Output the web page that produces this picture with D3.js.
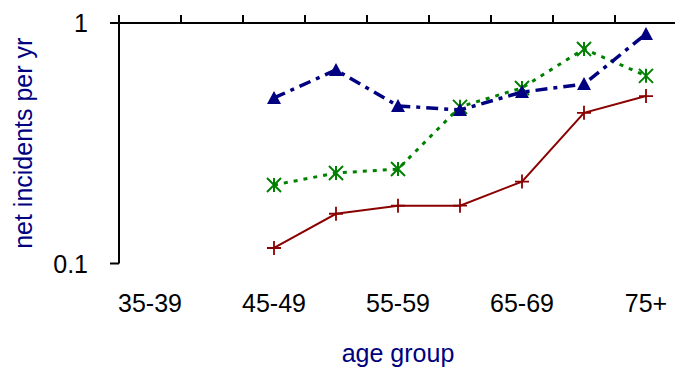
<!DOCTYPE html>
<html>
<head>
<meta charset="utf-8">
<script src="https://cdn.jsdelivr.net/npm/d3@7"></script>
<style>
  html, body { margin: 0; padding: 0; background: #fff; }
  svg { display: block; font-family: "Liberation Sans", Arial, sans-serif; }
</style>
</head>
<body>
<svg id="chart" width="675" height="370"></svg>
<script>
const categories = ["35-39", "40-44", "45-49", "50-54", "55-59", "60-64", "65-69", "70-74", "75+"];
const xTickLabels = ["35-39", "45-49", "55-59", "65-69", "75+"];
const yTickValues = [0.1, 1];
const yTickLabels = ["0.1", "1"];

// series values (null = no data)
const seriesTriangle = [null, null, 0.488, 0.638, 0.452, 0.435, 0.516, 0.557, 0.90];
const seriesStar     = [null, null, 0.212, 0.238, 0.247, 0.448, 0.537, 0.780, 0.603];
const seriesPlus     = [null, null, 0.116, 0.161, 0.174, 0.174, 0.219, 0.423, 0.497];

(function () {
const svg = d3.select("#chart");
const mLeft = 119, mRight = 677, mTop = 23, mBottom = 263.5;

const x = d3.scaleBand().domain(categories).range([mLeft, mRight]).padding(0);
const cx = c => x(c) + x.bandwidth() / 2;
const y = d3.scaleLog().domain([0.1, 1]).range([mBottom, mTop]);

// axes lines
svg.append("line").attr("x1", mLeft).attr("x2", mLeft).attr("y1", mTop).attr("y2", mBottom)
  .attr("stroke", "#000").attr("stroke-width", 2);
svg.append("line").attr("x1", mLeft - 9).attr("x2", 675).attr("y1", mTop).attr("y2", mTop)
  .attr("stroke", "#000").attr("stroke-width", 2);

// y ticks
yTickValues.forEach((v, i) => {
  svg.append("line").attr("x1", mLeft - 9).attr("x2", mLeft).attr("y1", y(v)).attr("y2", y(v))
    .attr("stroke", "#000").attr("stroke-width", 2);
  svg.append("text").attr("x", 88).attr("y", y(v) + 9).attr("text-anchor", "end")
    .attr("font-size", 25).attr("fill", "#000").text(yTickLabels[i]);
});

// top ticks at band boundaries
categories.forEach(c => {
  svg.append("line").attr("x1", x(c)).attr("x2", x(c)).attr("y1", mTop - 8).attr("y2", mTop)
    .attr("stroke", "#000").attr("stroke-width", 2);
});

// x tick labels
xTickLabels.forEach(c => {
  svg.append("text").attr("x", cx(c)).attr("y", 312).attr("text-anchor", "middle")
    .attr("font-size", 25).attr("fill", "#000").text(c);
});

// axis titles
svg.append("text").attr("x", (mLeft + mRight) / 2).attr("y", 362).attr("text-anchor", "middle")
  .attr("font-size", 25).attr("fill", "#000080").text("age group");
svg.append("text").attr("transform", `translate(32,${(mTop + mBottom) / 2}) rotate(-90)`)
  .attr("text-anchor", "middle").attr("font-size", 25).attr("fill", "#000080")
  .text("net incidents per yr");

const line = d3.line().defined(d => d.v != null).x(d => cx(d.c)).y(d => y(d.v));
const toPts = arr => categories.map((c, i) => ({c, v: arr[i]}));

// red solid line with plus markers
const redC = "#8b0000";
svg.append("path").datum(toPts(seriesPlus)).attr("d", line)
  .attr("fill", "none").attr("stroke", redC).attr("stroke-width", 2);
toPts(seriesPlus).filter(d => d.v != null).forEach(d => {
  const px = cx(d.c), py = y(d.v), s = 7;
  svg.append("path").attr("d", `M${px - s},${py}H${px + s}M${px},${py - s}V${py + s}`)
    .attr("stroke", redC).attr("stroke-width", 1.8).attr("fill", "none");
});

// green dotted line with star markers
const greenC = "#008000";
svg.append("path").datum(toPts(seriesStar)).attr("d", line)
  .attr("fill", "none").attr("stroke", greenC).attr("stroke-width", 3)
  .attr("stroke-dasharray", "4,6");
toPts(seriesStar).filter(d => d.v != null).forEach(d => {
  const px = cx(d.c), py = y(d.v), s = 7;
  svg.append("path")
    .attr("d", `M${px - s},${py - s}L${px + s},${py + s}M${px - s},${py + s}L${px + s},${py - s}M${px},${py - s}V${py + s}`)
    .attr("stroke", greenC).attr("stroke-width", 2).attr("fill", "none");
});

// navy dash-dot line with triangle markers
const navyC = "#000080";
svg.append("path").datum(toPts(seriesTriangle)).attr("d", line)
  .attr("fill", "none").attr("stroke", navyC).attr("stroke-width", 3.5)
  .attr("stroke-dasharray", "12,6,4,6");
toPts(seriesTriangle).filter(d => d.v != null).forEach(d => {
  const px = cx(d.c), py = y(d.v), s = 7;
  svg.append("path").attr("d", `M${px},${py - s}L${px + s},${py + s * 0.85}L${px - s},${py + s * 0.85}Z`)
    .attr("fill", navyC);
});
})();
</script>
</body>
</html>
